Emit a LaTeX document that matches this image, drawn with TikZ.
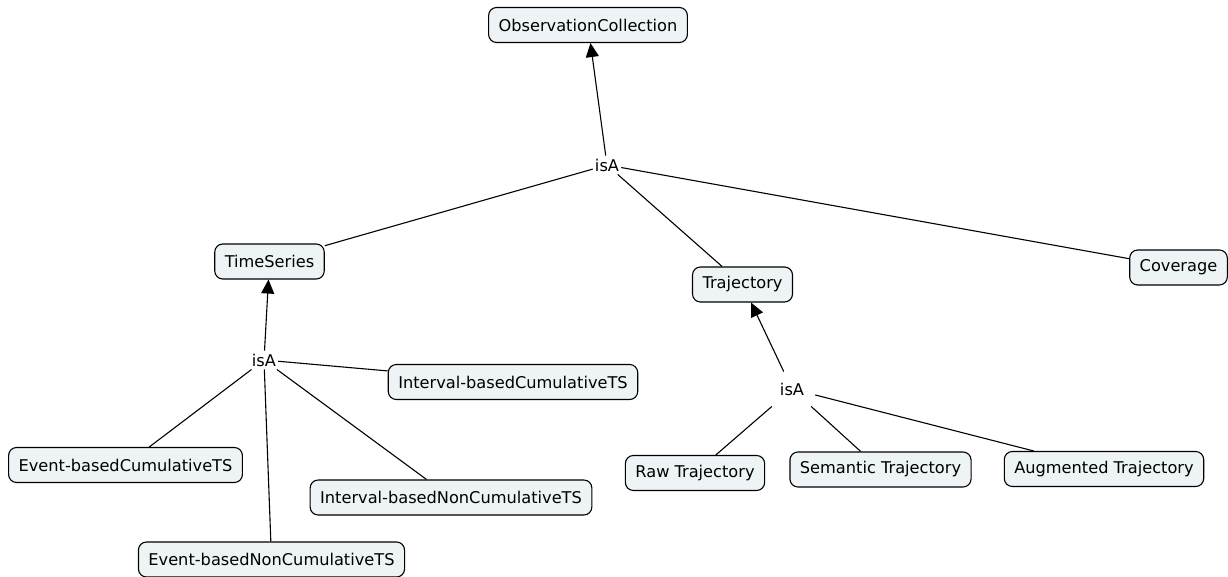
\documentclass[tikz,border=0pt]{standalone}
\usepackage{fontspec}
\setmainfont{DejaVu Sans}
\usetikzlibrary{arrows.meta}
\definecolor{conceptfill}{RGB}{238,243,245}
\tikzset{
  concept/.style={draw=black, line width=1.1pt, fill=conceptfill, rounded corners=8pt,
    inner xsep=10pt, minimum height=35pt, font=\fontsize{16.2}{19}\selectfont},
  link/.style={inner xsep=2pt, inner ysep=3pt, font=\fontsize{16.2}{19}\selectfont},
  widelink/.style={inner xsep=11pt, inner ysep=11pt, font=\fontsize{16.2}{19}\selectfont},
  conn/.style={line width=1.1pt},
  isarrow/.style={line width=1.1pt, -{Triangle[length=14pt,width=13pt]}}
}
\begin{document}
\begin{tikzpicture}[x=1pt,y=-1pt]
\useasboundingbox (0,0) rectangle (1228,577);
\node[concept] (obs) at (588,25) {ObservationCollection};
\node[concept] (ts) at (269.5,261.5) {TimeSeries};
\node[concept] (traj) at (742.5,284.5) {Trajectory};
\node[concept] (cov) at (1178.5,267.5) {Coverage};
\node[concept] (ibc) at (513,382) {Interval-basedCumulativeTS};
\node[concept] (ebc) at (125.5,465) {Event-basedCumulativeTS};
\node[concept] (ibnc) at (451,497.5) {Interval-basedNonCumulativeTS};
\node[concept] (ebnc) at (271.5,559.5) {Event-basedNonCumulativeTS};
\node[concept] (raw) at (695,473) {Raw Trajectory};
\node[concept] (sem) at (880.5,469.5) {Semantic Trajectory};
\node[concept] (aug) at (1104,469) {Augmented Trajectory};

\node[link] (isa1) at (607,165) {isA};
\node[link] (isa2) at (264,360) {isA};
\node[widelink] (isa3) at (792,389) {isA};

\draw[isarrow] (isa1) -- (obs);
\draw[conn] (isa1) -- (ts);
\draw[conn] (isa1) -- (traj);
\draw[conn] (isa1) -- (cov);

\draw[isarrow] (isa2) -- (ts);
\draw[conn] (isa2) -- (ibc);
\draw[conn] (isa2) -- (ebc);
\draw[conn] (isa2) -- (ibnc);
\draw[conn] (isa2) -- (ebnc);

\draw[isarrow] (isa3) -- (traj);
\draw[conn] (isa3) -- (raw);
\draw[conn] (isa3) -- (sem);
\draw[conn] (isa3) -- (aug);
\end{tikzpicture}
\end{document}
